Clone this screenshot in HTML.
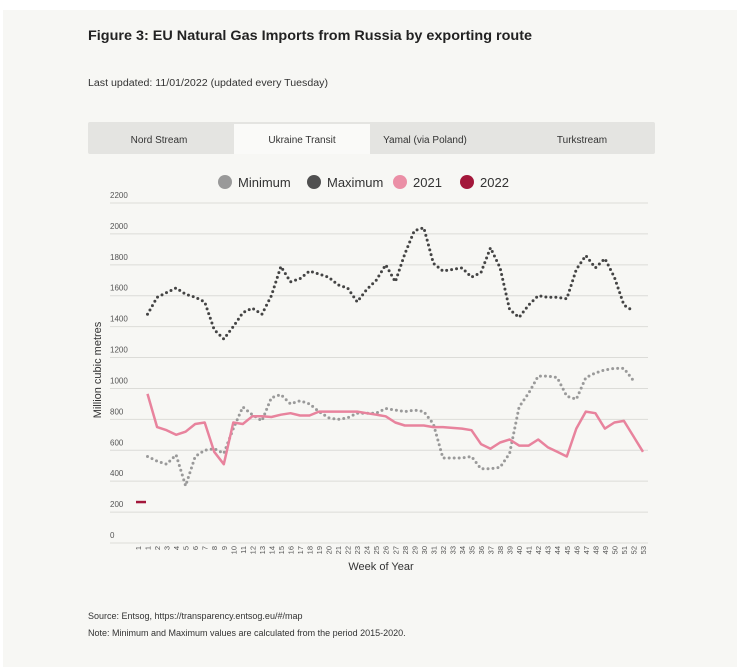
<!DOCTYPE html>
<html><head><meta charset="utf-8"><style>
body{margin:0;background:#fff;}
svg{display:block;font-family:"Liberation Sans",sans-serif;}
</style></head><body>
<svg id="chart" width="740" height="670" viewBox="0 0 740 670">
<rect x="3" y="10" width="734" height="657" fill="#f7f7f4"/>
<text x="88" y="40" font-size="14" font-weight="bold" fill="#222" textLength="444" lengthAdjust="spacingAndGlyphs">Figure 3: EU Natural Gas Imports from Russia by exporting route</text>
<text x="88" y="86" font-size="10" fill="#333" textLength="240" lengthAdjust="spacingAndGlyphs">Last updated: 11/01/2022 (updated every Tuesday)</text>
<g>
<rect x="88" y="122" width="567" height="32" fill="#e4e4e1" rx="2"/>
<rect x="234" y="124" width="136" height="30" fill="#fafaf8"/>
<text x="159" y="143" font-size="10" fill="#333" text-anchor="middle">Nord Stream</text>
<text x="302" y="143" font-size="10" fill="#333" text-anchor="middle">Ukraine Transit</text>
<text x="425" y="143" font-size="10" fill="#333" text-anchor="middle">Yamal (via Poland)</text>
<text x="582" y="143" font-size="10" fill="#333" text-anchor="middle">Turkstream</text>
</g>
<g font-size="13" fill="#333">
<circle cx="225" cy="182" r="7" fill="#999"/>
<text x="238" y="187">Minimum</text>
<circle cx="314" cy="182" r="7" fill="#505050"/>
<text x="327" y="187">Maximum</text>
<circle cx="400" cy="182" r="7" fill="#eb8fa6"/>
<text x="413" y="187">2021</text>
<circle cx="467" cy="182" r="7" fill="#a3173a"/>
<text x="480" y="187">2022</text>
</g>
<g id="grid"></g>
<g id="marks"></g>
<text transform="translate(101,370) rotate(-90)" font-size="11" fill="#333" text-anchor="middle">Million cubic metres</text>
<text x="381" y="570" font-size="11" fill="#333" text-anchor="middle">Week of Year</text>
<text x="88" y="619" font-size="9" fill="#333">Source: Entsog, https://transparency.entsog.eu/#/map</text>
<text x="88" y="636" font-size="9" fill="#333">Note: Minimum and Maximum values are calculated from the period 2015-2020.</text>
</svg>
<script>
const categories = ["1","1","2","3","4","5","6","7","8","9","10","11","12","13","14","15","16","17","18","19","20","21","22","23","24","25","26","27","28","29","30","31","32","33","34","35","36","37","38","39","40","41","42","43","44","45","46","47","48","49","50","51","52","53"];
const yTicks = [0,200,400,600,800,1000,1200,1400,1600,1800,2000,2200];
const maxValues = [null,1480,1590,1620,1650,1610,1590,1560,1380,1320,1400,1490,1520,1480,1600,1790,1690,1710,1760,1740,1720,1670,1650,1560,1640,1700,1800,1690,1870,2020,2040,1810,1760,1770,1780,1720,1750,1910,1780,1510,1460,1540,1600,1590,1590,1580,1770,1860,1780,1840,1720,1540,1500,null];
const minValues = [null,560,530,510,570,370,560,600,610,580,740,880,830,790,940,960,900,920,900,850,810,800,810,840,840,840,870,860,850,860,850,770,550,550,550,560,480,480,490,580,880,970,1080,1080,1070,950,930,1070,1100,1120,1130,1130,1050,null];
const values2021 = [null,965,750,730,700,720,770,780,590,510,780,770,820,820,815,830,840,825,825,850,850,850,850,850,840,830,820,780,760,760,760,750,750,745,740,730,640,610,650,670,630,630,670,620,590,560,740,850,840,740,780,790,690,590];
const values2022 = [265,null,null,null,null,null,null,null,null,null,null,null,null,null,null,null,null,null,null,null,null,null,null,null,null,null,null,null,null,null,null,null,null,null,null,null,null,null,null,null,null,null,null,null,null,null,null,null,null,null,null,null,null,null];

const NS="http://www.w3.org/2000/svg";
const x0=138, x1=643, yBase=543, yTop=203, yMax=2200;
const xs=i=>x0+i*(x1-x0)/(categories.length-1);
const ys=v=>yBase-v*(yBase-yTop)/yMax;
const grid=document.getElementById('grid'), marks=document.getElementById('marks');
function mk(tag,attrs,parent){const e=document.createElementNS(NS,tag);for(const k in attrs)e.setAttribute(k,attrs[k]);parent.appendChild(e);return e;}
yTicks.forEach(t=>{
  const l=mk('line',{x1:110,x2:648,y1:ys(t),y2:ys(t),stroke:'#dcdcd8','stroke-width':1},grid);
  
  
  const tx=mk('text',{x:110,y:ys(t)-5,'font-size':8,fill:'#555'},grid);
  tx.textContent=t;
  
  
});
categories.forEach((c,i)=>{
  const tx=mk('text',{transform:`translate(${xs(i)+3},546) rotate(-90)`,'font-size':7.5,fill:'#555','text-anchor':'end'},grid);
  tx.textContent=c;
  
  
});
function path(vals){let d='',pen=false;vals.forEach((v,i)=>{if(v==null){pen=false;return;}d+=(pen?'L':'M')+xs(i).toFixed(1)+','+ys(v).toFixed(1);pen=true;});return d;}
const pMin=mk('path',{d:path(minValues),fill:'none',stroke:'#9a9a9a','stroke-width':3,'stroke-dasharray':'0 5','stroke-linecap':'round'},marks);


const pMax=mk('path',{d:path(maxValues),fill:'none',stroke:'#444','stroke-width':3,'stroke-dasharray':'0 5','stroke-linecap':'round'},marks);


const p21=mk('path',{d:path(values2021),fill:'none',stroke:'#e8839d','stroke-width':2.5,'stroke-linejoin':'round'},marks);


values2022.forEach((v,i)=>{if(v==null)return;
  const m=mk('line',{x1:xs(i)-2,x2:xs(i)+8,y1:ys(v),y2:ys(v),stroke:'#a3173a','stroke-width':2.5},marks);
  
  
});
</script>
</body></html>
